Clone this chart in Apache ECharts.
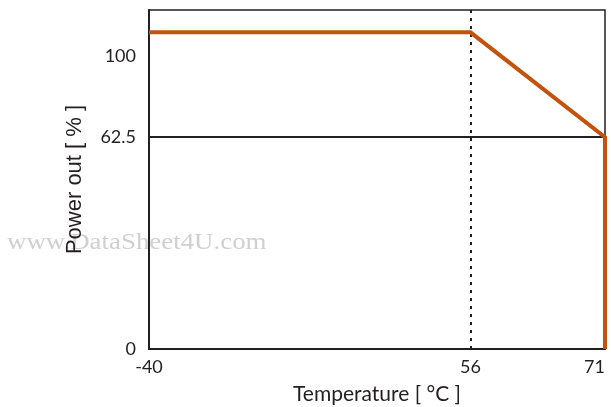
<!DOCTYPE html>
<html><head><meta charset="utf-8">
<script src="https://cdn.jsdelivr.net/npm/echarts@6/dist/echarts.min.js"></script>
<style>html,body{margin:0;padding:0;background:#fff}#c{width:611px;height:407px}</style>
</head><body><div id="c"></div>
<script>
// Data
const temperatures = [-40, 56, 71, 71];
const powerOut = [111, 111, 62.5, 0];
const xTickLabels = [-40, 56, 71];
const yTickLabels = [0, 62.5, 100];
const deratingStart = 56;
const referenceLevel = 62.5;

// Schematic (non-linear) axis breakpoints: value -> axis unit (0..100)
const xBreakVals = [-40, 56, 71], xBreakUnits = [0, 70.5, 100];
const yBreakVals = [0, 62.5, 100], yBreakUnits = [0, 62.5, 86.4];
function interp(v, vals, units) {
  let i = 0;
  if (v <= vals[0]) i = 0; else if (v >= vals[vals.length - 1]) i = vals.length - 2;
  else { while (v > vals[i + 1]) i++; }
  const t = (v - vals[i]) / (vals[i + 1] - vals[i]);
  return units[i] + t * (units[i + 1] - units[i]);
}
const fx = v => interp(v, xBreakVals, xBreakUnits);
const fy = v => interp(v, yBreakVals, yBreakUnits);
const xLabelMap = {}; xTickLabels.forEach(v => xLabelMap[fx(v).toFixed(3)] = String(v));
const yLabelMap = {}; yTickLabels.forEach(v => yLabelMap[fy(v).toFixed(3)] = String(v));

const font = 'Lato';
const ink = '#231f20';
const chart = echarts.init(document.getElementById('c'));
chart.setOption({
  animation: false,
  grid: { left: 149, right: 6, top: 10, bottom: 58, outerBoundsMode: 'none', containLabel: false,
          show: true, borderColor: ink, borderWidth: 1.5, backgroundColor: 'transparent' },
  graphic: [{
    type: 'text', x: 7, y: 231, z: -1, silent: true, scaleX: 1.12,
    style: { text: 'www.DataSheet4U.com', fill: '#d0d0d0', fontFamily: 'Liberation Serif', fontSize: 24 }
  }],
  xAxis: {
    type: 'value', min: 0, max: 100,
    name: 'Temperature [ °C ]', nameLocation: 'middle', nameGap: 35,
    nameTextStyle: { color: ink, fontFamily: font, fontSize: 21, verticalAlign: 'top' },
    axisLine: { show: true, lineStyle: { color: ink, width: 2 } },
    axisTick: { show: false }, splitLine: { show: false },
    axisLabel: {
      customValues: xTickLabels.map(fx), color: ink, fontFamily: font, fontSize: 18, margin: 9,
      alignMaxLabel: 'right', alignMinLabel: 'center',
      formatter: v => xLabelMap[Number(v).toFixed(3)] || ''
    }
  },
  yAxis: {
    type: 'value', min: 0, max: 100,
    name: 'Power out [ % ]', nameLocation: 'middle', nameGap: 63,
    nameTextStyle: { color: ink, fontFamily: 'Liberation Sans', fontSize: 22 },
    axisLine: { show: true, lineStyle: { color: ink, width: 2 } },
    axisTick: { show: false }, splitLine: { show: false },
    axisLabel: {
      customValues: yTickLabels.map(fy), color: ink, fontFamily: font, fontSize: 18, margin: 13,
      formatter: v => yLabelMap[Number(v).toFixed(3)] || ''
    }
  },
  series: [{
    type: 'line', showSymbol: false, z: 5,
    data: temperatures.map((t, i) => [fx(t), fy(powerOut[i])]),
    lineStyle: { color: '#c4520c', width: 4, cap: 'butt', join: 'miter' },
    markLine: {
      silent: true, symbol: 'none', label: { show: false },
      data: [
        { yAxis: fy(referenceLevel), lineStyle: { color: ink, width: 2, type: 'solid' } },
        { xAxis: fx(deratingStart), lineStyle: { color: ink, width: 2, type: [3, 5] } }
      ]
    }
  }]
});
</script></body></html>
